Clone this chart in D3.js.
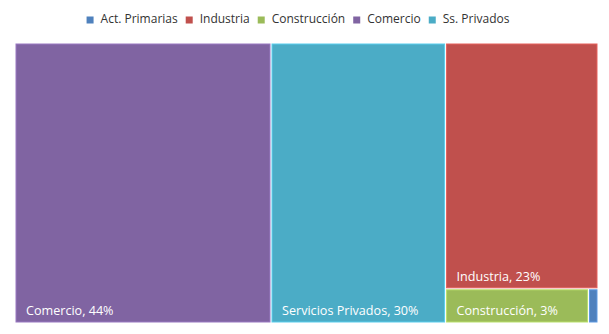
<!DOCTYPE html>
<html>
<head>
<meta charset="utf-8">
<script src="https://cdn.jsdelivr.net/npm/d3@7"></script>
<style>
  html, body { margin: 0; padding: 0; background: #fff; }
  svg { display: block; font-family: "Open Sans", "Noto Sans", sans-serif; }
</style>
</head>
<body>
<svg id="chart" width="609" height="334"></svg>
<script>
// Sector shares of the economy (%)
const categories = ["Act. Primarias", "Industria", "Construcción", "Comercio", "Ss. Privados"];
const cellNames  = ["Act. Primarias", "Industria", "Construcción", "Comercio", "Servicios Privados"];
const shares     = [0.2, 23, 3, 44, 30];
const showLabel  = [false, true, true, true, true];
const colors     = ["#4F81BD", "#C0504D", "#9BBB59", "#8064A2", "#4BACC6"];

const svg = d3.select("#chart");
const area = { x0: 16, y0: 44, x1: 597, y1: 322 };

const color = d3.scaleOrdinal().domain(categories).range(colors);

// Hierarchy + squarified treemap (square aspect target)
const root = d3.hierarchy({
  children: categories.map((c, i) => ({ key: c, name: cellNames[i], value: shares[i], label: showLabel[i] }))
}).sum(d => d.value || 0)
  .sort((a, b) => b.value - a.value);

d3.treemap()
  .tile(d3.treemapSquarify.ratio(1))
  .size([area.x1 - area.x0, area.y1 - area.y0])
  .paddingInner(2)
  .round(false)(root);

const cells = svg.append("g")
  .attr("transform", `translate(${area.x0},${area.y0})`)
  .selectAll("g")
  .data(root.leaves())
  .join("g")
  .attr("transform", d => `translate(${d.x0},${d.y0})`);

cells.append("rect")
  .attr("width", d => Math.max(0, d.x1 - d.x0))
  .attr("height", d => Math.max(0, d.y1 - d.y0))
  .attr("fill", d => color(d.data.key))
  .attr("stroke", d => d3.color(color(d.data.key)).brighter(0.5))
  .attr("stroke-width", 1);

cells.filter(d => d.data.label)
  .append("text")
  .attr("x", 10)
  .attr("y", d => d.y1 - d.y0 - 7)
  .attr("fill", "#fff")
  .attr("font-size", 12.6)
  .text(d => `${d.data.name}, ${d.data.value}%`);

// Legend, centred above the plot
const legend = svg.append("g");
const items = legend.selectAll("g").data(categories).join("g");
items.append("rect")
  .attr("width", 7).attr("height", 7)
  .attr("y", -6)
  .attr("fill", d => color(d));
items.append("text")
  .attr("x", 14)
  .attr("font-size", 12)
  .attr("fill", "#333")
  .text(d => d);

let x = 0;
items.each(function () {
  const g = d3.select(this);
  const tw = g.select("text").node().getComputedTextLength();
  g.attr("transform", `translate(${x},0)`);
  x += 14 + tw + 8;
});
const totalW = x - 8;
legend.attr("transform", `translate(${298 - totalW / 2},22.5)`);
</script>
</body>
</html>
